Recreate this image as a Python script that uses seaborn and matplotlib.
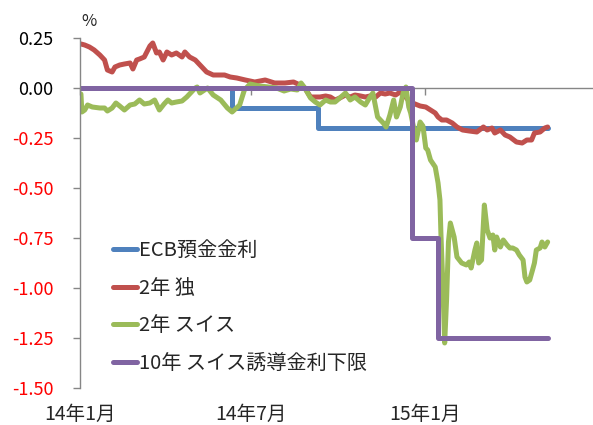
import matplotlib
matplotlib.use("Agg")
import matplotlib.pyplot as plt
import matplotlib.dates as mdates
import seaborn as sns
import pandas as pd

# ---------------- data ----------------
ecb_dates = ["2014-01-01", "2014-06-11", "2014-09-10", "2015-05-11"]
ecb_values = [0.00, -0.10, -0.20, -0.20]

snb_dates = ["2014-01-01", "2014-12-18", "2015-01-15", "2015-05-11"]
snb_values = [0.00, -0.75, -1.25, -1.25]

de_dates = [
    "2014-01-02", "2014-01-06", "2014-01-11", "2014-01-16", "2014-01-22", "2014-01-27",
    "2014-01-30", "2014-02-04", "2014-02-07", "2014-02-12", "2014-02-17", "2014-02-23",
    "2014-02-26", "2014-03-02", "2014-03-05", "2014-03-10", "2014-03-16", "2014-03-19",
    "2014-03-23", "2014-03-26", "2014-03-30", "2014-04-03", "2014-04-08", "2014-04-13",
    "2014-04-19", "2014-04-22", "2014-04-27", "2014-05-03", "2014-05-08", "2014-05-15",
    "2014-05-22", "2014-05-29", "2014-06-03", "2014-06-09", "2014-06-16", "2014-06-25",
    "2014-07-05", "2014-07-16", "2014-07-26", "2014-08-06", "2014-08-15", "2014-08-22",
    "2014-08-27", "2014-09-02", "2014-09-07", "2014-09-12", "2014-09-18", "2014-09-23",
    "2014-09-28", "2014-10-03", "2014-10-09", "2014-10-14", "2014-10-19", "2014-10-25",
    "2014-10-30", "2014-11-04", "2014-11-10", "2014-11-15", "2014-11-20", "2014-11-25",
    "2014-12-01", "2014-12-06", "2014-12-10", "2014-12-17", "2014-12-19", "2014-12-27",
    "2015-01-02", "2015-01-07", "2015-01-12", "2015-01-15", "2015-01-19", "2015-01-24",
    "2015-01-30", "2015-02-04", "2015-02-10", "2015-02-17", "2015-02-25", "2015-03-04",
    "2015-03-08", "2015-03-13", "2015-03-16", "2015-03-22", "2015-03-27", "2015-04-01",
    "2015-04-08", "2015-04-14", "2015-04-19", "2015-04-24", "2015-04-27", "2015-05-03",
    "2015-05-08", "2015-05-11",
]
de_values = [
    0.220, 0.215, 0.205, 0.190, 0.165, 0.140,
    0.090, 0.080, 0.105, 0.115, 0.120, 0.125,
    0.095, 0.140, 0.145, 0.155, 0.210, 0.225,
    0.175, 0.180, 0.140, 0.180, 0.165, 0.175,
    0.155, 0.180, 0.155, 0.140, 0.115, 0.080,
    0.065, 0.065, 0.065, 0.055, 0.050, 0.040,
    0.030, 0.040, 0.025, 0.025, 0.030, 0.015,
    0.000, -0.045, -0.045, -0.045, -0.040, -0.045,
    -0.060, -0.050, -0.035, -0.045, -0.035, -0.040,
    -0.045, -0.040, -0.045, -0.025, -0.030, -0.025,
    -0.035, -0.020, -0.035, -0.075, -0.075, -0.090,
    -0.095, -0.110, -0.125, -0.145, -0.160, -0.160,
    -0.175, -0.195, -0.210, -0.215, -0.220, -0.195,
    -0.210, -0.200, -0.225, -0.210, -0.235, -0.245,
    -0.270, -0.275, -0.260, -0.260, -0.225, -0.220,
    -0.200, -0.195,
]

ch_dates = [
    "2014-01-02", "2014-01-03", "2014-01-06", "2014-01-09", "2014-01-14", "2014-01-22",
    "2014-01-27", "2014-01-30", "2014-02-04", "2014-02-08", "2014-02-12", "2014-02-17",
    "2014-02-23", "2014-02-28", "2014-03-05", "2014-03-10", "2014-03-16", "2014-03-21",
    "2014-03-26", "2014-03-31", "2014-04-04", "2014-04-08", "2014-04-13", "2014-04-19",
    "2014-04-24", "2014-04-27", "2014-05-03", "2014-05-05", "2014-05-08", "2014-05-16",
    "2014-05-22", "2014-05-30", "2014-06-06", "2014-06-11", "2014-06-19", "2014-06-24",
    "2014-06-30", "2014-07-10", "2014-07-20", "2014-07-28", "2014-08-05", "2014-08-12",
    "2014-08-19", "2014-08-23", "2014-08-27", "2014-09-02", "2014-09-07", "2014-09-12",
    "2014-09-18", "2014-09-23", "2014-09-28", "2014-10-03", "2014-10-09", "2014-10-14",
    "2014-10-19", "2014-10-25", "2014-10-30", "2014-11-04", "2014-11-07", "2014-11-12",
    "2014-11-15", "2014-11-18", "2014-11-21", "2014-11-25", "2014-11-29", "2014-12-02",
    "2014-12-06", "2014-12-09", "2014-12-12", "2014-12-15", "2014-12-17", "2014-12-20",
    "2014-12-23", "2014-12-27", "2014-12-30", "2015-01-02", "2015-01-04", "2015-01-07",
    "2015-01-12", "2015-01-15", "2015-01-17", "2015-01-18", "2015-01-20", "2015-01-22",
    "2015-01-24", "2015-01-26", "2015-01-28", "2015-02-01", "2015-02-04", "2015-02-09",
    "2015-02-14", "2015-02-17", "2015-02-19", "2015-02-23", "2015-02-25", "2015-02-27",
    "2015-03-02", "2015-03-05", "2015-03-08", "2015-03-11", "2015-03-14", "2015-03-16",
    "2015-03-18", "2015-03-22", "2015-03-25", "2015-03-29", "2015-04-01", "2015-04-04",
    "2015-04-08", "2015-04-11", "2015-04-15", "2015-04-17", "2015-04-19", "2015-04-22",
    "2015-04-25", "2015-04-27", "2015-04-29", "2015-05-03", "2015-05-05", "2015-05-08",
    "2015-05-11",
]
ch_values = [
    -0.030, -0.120, -0.110, -0.085, -0.095, -0.100,
    -0.100, -0.115, -0.100, -0.075, -0.090, -0.110,
    -0.085, -0.080, -0.060, -0.080, -0.075, -0.060,
    -0.110, -0.080, -0.060, -0.075, -0.070, -0.065,
    -0.045, -0.030, 0.000, 0.005, -0.025, 0.000,
    -0.035, -0.060, -0.100, -0.120, -0.085, -0.010,
    0.020, 0.010, 0.005, 0.000, -0.015, -0.005,
    -0.010, 0.025, 0.000, -0.050, -0.070, -0.085,
    -0.060, -0.070, -0.070, -0.050, -0.025, -0.060,
    -0.045, -0.070, -0.085, -0.045, -0.025, -0.145,
    -0.160, -0.175, -0.195, -0.135, -0.060, -0.145,
    -0.095, -0.025, 0.005, -0.095, -0.125, -0.195,
    -0.260, -0.170, -0.190, -0.300, -0.310, -0.360,
    -0.395, -0.475, -0.560, -0.725, -0.975, -1.275,
    -1.060, -0.770, -0.675, -0.745, -0.845, -0.875,
    -0.885, -0.870, -0.900, -0.810, -0.775, -0.875,
    -0.860, -0.585, -0.710, -0.750, -0.735, -0.810,
    -0.745, -0.795, -0.760, -0.785, -0.800, -0.800,
    -0.810, -0.835, -0.860, -0.945, -0.970, -0.960,
    -0.910, -0.875, -0.810, -0.800, -0.770, -0.795,
    -0.770,
]

series_labels = ["ECB預金金利", "2年 独", "2年 スイス", "10年 スイス誘導金利下限"]
series_colors = ["#4F81BD", "#C0504D", "#9BBB59", "#8064A2"]

y_ticks = [0.25, 0.00, -0.25, -0.50, -0.75, -1.00, -1.25, -1.50]
x_tick_dates = ["2014-01-01", "2014-07-01", "2015-01-01"]
x_tick_labels = ["14年1月", "14年7月", "15年1月"]
x_range = ["2014-01-01", "2015-06-28"]

# ---------------- style ----------------
sns.set_style("white")
plt.rcParams["font.family"] = ["Noto Sans CJK JP", "DejaVu Sans"]
GRAY = "#868686"

fig = plt.figure(figsize=(5.93, 4.25), dpi=100)
ax = fig.add_axes([80 / 593, 37 / 425, 513 / 593, 350 / 425])

lw = 3.6
common = dict(ax=ax, linewidth=lw, solid_joinstyle="round", solid_capstyle="round")
sns.lineplot(x=pd.to_datetime(ecb_dates), y=ecb_values, color=series_colors[0],
             label=series_labels[0], drawstyle="steps-post", **common)
sns.lineplot(x=pd.to_datetime(de_dates), y=de_values, color=series_colors[1],
             label=series_labels[1], **common)
sns.lineplot(x=pd.to_datetime(ch_dates), y=ch_values, color=series_colors[2],
             label=series_labels[2], **common)
sns.lineplot(x=pd.to_datetime(snb_dates), y=snb_values, color=series_colors[3],
             label=series_labels[3], drawstyle="steps-post", **common)

xr = pd.to_datetime(x_range)
ax.set_xlim(xr[0], xr[1])
ax.set_ylim(-1.5, 0.25)
ax.set_xlabel("")
ax.set_ylabel("")

# y axis
ax.set_yticks(y_ticks)
ax.set_yticklabels([f"{v:.2f}" for v in y_ticks], fontsize=13)
for lab, v in zip(ax.get_yticklabels(), y_ticks):
    lab.set_color("#FF0000" if v < 0 else "black")
ax.tick_params(axis="y", direction="out", length=5, width=1, color=GRAY, pad=14, left=True)

# x axis labels at the bottom
xt = pd.to_datetime(x_tick_dates)
ax.set_xticks(xt)
ax.set_xticklabels(x_tick_labels, fontsize=14)
ax.tick_params(axis="x", length=0, pad=23)
for lab in ax.get_xticklabels():
    lab.set_verticalalignment("baseline")

for s in ["top", "right", "bottom"]:
    ax.spines[s].set_visible(False)
ax.spines["left"].set_color(GRAY)
ax.spines["left"].set_linewidth(1)
ax.patch.set_visible(False)

# zero-line axis with its tick marks
ax2 = ax.twiny()
ax2.set_xlim(ax.get_xlim())
ax2.xaxis.set_ticks_position("bottom")
ax2.spines["bottom"].set_position(("data", 0))
for s in ["top", "left", "right"]:
    ax2.spines[s].set_visible(False)
ax2.spines["bottom"].set_color(GRAY)
ax2.spines["bottom"].set_linewidth(1)
ax2.set_xticks(mdates.date2num(xt))
ax2.set_xticklabels([])
ax2.tick_params(axis="x", direction="out", length=5, width=1, color=GRAY)
ax2.set_zorder(ax.get_zorder() - 1)

# legend
leg = ax.legend(loc="upper left", bbox_to_anchor=(0.0643, 0.422), frameon=False,
                fontsize=14.5, handlelength=1.2, handletextpad=0.1,
                labelspacing=0.82, borderpad=0, borderaxespad=0)
for h in leg.get_lines():
    h.set_linewidth(3.6)

fig.text(89 / 593, 1 - 21 / 425, "%", ha="center", va="center", fontsize=12)

fig.savefig("out.png", dpi=100, facecolor="white")
